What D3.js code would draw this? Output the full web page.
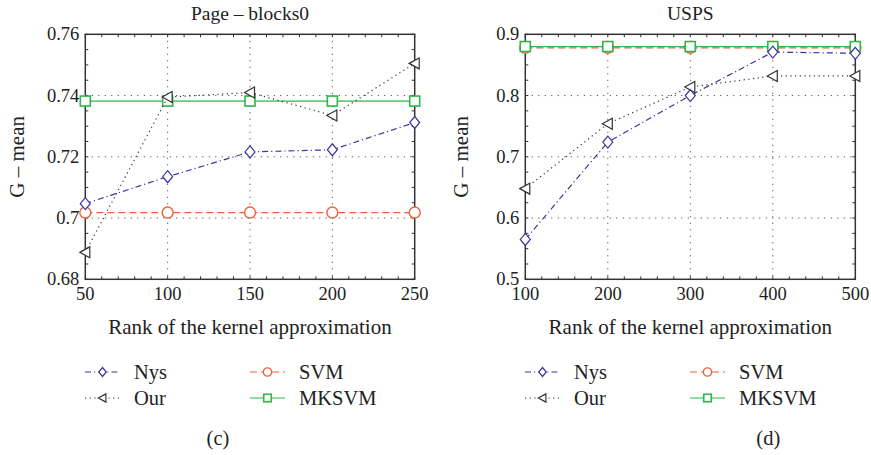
<!DOCTYPE html>
<html><head><meta charset="utf-8">
<script src="https://cdn.jsdelivr.net/npm/d3@7"></script>
<style>body{margin:0;background:#fff}svg{display:block}text{font-family:"Liberation Serif","DejaVu Serif",serif;fill:#222}</style>
</head><body>
<svg id="c" width="871" height="455"></svg>
<script>
// Panel (c): Page - blocks0
const ranksC = [50, 100, 150, 200, 250];
const nysC = [0.7047, 0.7135, 0.7216, 0.7223, 0.7312];
const ourC = [0.6888, 0.7395, 0.7410, 0.7335, 0.7505];
const svmC = [0.7018, 0.7018, 0.7018, 0.7018, 0.7018];
const mksvmC = [0.7382, 0.7382, 0.7382, 0.7382, 0.7382];
const yTicksC = [0.68, 0.70, 0.72, 0.74, 0.76];
const yTickLabelsC = ["0.68", "0.7", "0.72", "0.74", "0.76"];
// Panel (d): USPS
const ranksD = [100, 200, 300, 400, 500];
const nysD = [0.565, 0.724, 0.800, 0.871, 0.869];
const ourD = [0.648, 0.754, 0.814, 0.832, 0.832];
const svmD = [0.878, 0.878, 0.878, 0.878, 0.878];
const mksvmD = [0.880, 0.880, 0.880, 0.880, 0.880];
const yTicksD = [0.5, 0.6, 0.7, 0.8, 0.9];
const yTickLabelsD = ["0.5", "0.6", "0.7", "0.8", "0.9"];
const seriesNames = ["Nys", "Our", "SVM", "MKSVM"];

const styles = {
  Nys:   {color:"#3a35a0", dash:"6,3,1.2,3", marker:"diamond"},
  Our:   {color:"#333", dash:"1.2,3.5", marker:"triangle"},
  SVM:   {color:"#f0603f", dash:"7,4", marker:"circle"},
  MKSVM: {color:"#2fb54a", dash:null, marker:"square"}
};

const svg = d3.select("#c");

function marker(g, type, x, y, color, s){
  s = s || 1;
  if(type==="diamond"){
    g.append("path").attr("d",`M${x},${y-6*s}L${x+5*s},${y}L${x},${y+6*s}L${x-5*s},${y}Z`)
      .attr("fill","#fff").attr("stroke",color).attr("stroke-width",1.2);
  } else if(type==="triangle"){
    g.append("path").attr("d",`M${x-5.5*s},${y}L${x+4.5*s},${y-5.5*s}L${x+4.5*s},${y+5.5*s}Z`)
      .attr("fill","#fff").attr("stroke",color).attr("stroke-width",1.2);
  } else if(type==="circle"){
    g.append("circle").attr("cx",x).attr("cy",y).attr("r",5.5*s)
      .attr("fill","#fff").attr("stroke",color).attr("stroke-width",1.4);
  } else {
    g.append("rect").attr("x",x-5*s).attr("y",y-5*s).attr("width",10*s).attr("height",10*s)
      .attr("fill","#fff").attr("stroke",color).attr("stroke-width",1.6);
  }
}

function panel(opts){
  const {x0,x1,y0,y1,xs,yDom,yTicks,yLabels,xMinor,yMinor,title,data,ylabX,letter,legX} = opts;
  const x = d3.scaleLinear().domain([xs[0], xs[xs.length-1]]).range([x0,x1]);
  const y = d3.scaleLinear().domain(yDom).range([y1,y0]);
  const g = svg.append("g");
  // grid
  xs.slice(1,-1).forEach(v=>g.append("line").attr("x1",x(v)).attr("x2",x(v)).attr("y1",y0).attr("y2",y1)
     .attr("stroke","#333").attr("stroke-width",1).attr("stroke-dasharray","1,5.5"));
  yTicks.slice(1,-1).forEach(v=>g.append("line").attr("x1",x0).attr("x2",x1).attr("y1",y(v)).attr("y2",y(v))
     .attr("stroke","#333").attr("stroke-width",1).attr("stroke-dasharray","1,5.5"));
  // minor ticks inward
  const xm = d3.range(xs[0], xs[xs.length-1]+1e-9, xMinor);
  xm.forEach(v=>{
    g.append("line").attr("x1",x(v)).attr("x2",x(v)).attr("y1",y1).attr("y2",y1-3).attr("stroke","#333");
    g.append("line").attr("x1",x(v)).attr("x2",x(v)).attr("y1",y0).attr("y2",y0+3).attr("stroke","#333");
  });
  const ym = d3.range(yDom[0], yDom[1]+1e-9, yMinor);
  ym.forEach(v=>{
    g.append("line").attr("x1",x0).attr("x2",x0+3).attr("y1",y(v)).attr("y2",y(v)).attr("stroke","#333");
    g.append("line").attr("x1",x1).attr("x2",x1-3).attr("y1",y(v)).attr("y2",y(v)).attr("stroke","#333");
  });
  // frame
  g.append("rect").attr("x",x0).attr("y",y0).attr("width",x1-x0).attr("height",y1-y0)
    .attr("fill","none").attr("stroke","#333").attr("stroke-width",1.5);
  // tick labels
  xs.forEach(v=>g.append("text").attr("x",x(v)).attr("y",y1+21).attr("text-anchor","middle")
    .attr("font-size",18.5).text(v));
  yTicks.forEach((v,i)=>g.append("text").attr("x",x0-6).attr("y",y(v)+6).attr("text-anchor","end")
    .attr("font-size",18.5).text(yLabels[i]));
  // title
  g.append("text").attr("x",(x0+x1)/2).attr("y",20).attr("text-anchor","middle").attr("font-size",19.5).text(title);
  // axis labels
  g.append("text").attr("x",(x0+x1)/2).attr("y",334).attr("text-anchor","middle").attr("font-size",21)
    .text("Rank of the kernel approximation");
  g.append("text").attr("transform",`translate(${ylabX},${(y0+y1)/2}) rotate(-90)`).attr("text-anchor","middle")
    .attr("font-size",21).text("G \u2013 mean");
  // series
  const order = ["SVM","MKSVM","Our","Nys"];
  const line = d3.line().x((d,i)=>x(xs[i])).y(d=>y(d));
  order.forEach(name=>{
    const st = styles[name], vals = data[name];
    g.append("path").attr("d",line(vals)).attr("fill","none").attr("stroke",st.color)
      .attr("stroke-width",1.2).attr("stroke-dasharray",st.dash);
    vals.forEach((v,i)=>marker(g, st.marker, x(xs[i]), y(v), st.color));
  });
  // legend
  seriesNames.forEach((name,i)=>{
    const st = styles[name];
    const lx = legX + (i>=2?165:0);
    const ly = 372 + (i%2)*26;
    g.append("line").attr("x1",lx).attr("x2",lx+35).attr("y1",ly).attr("y2",ly).attr("stroke",st.color)
      .attr("stroke-width",1.2).attr("stroke-dasharray",st.dash);
    marker(g, st.marker, lx+17.5, ly, st.color, 0.75);
    g.append("text").attr("x",lx+49).attr("y",ly+7).attr("font-size",20.5).text(name);
  });
  g.append("text").attr("x",(x0+x1)/2 - (letter==="(c)"?32:-78)).attr("y",445).attr("text-anchor","middle")
    .attr("font-size",20.5).text(letter);
}

panel({x0:85.3,x1:414.7,y0:34.3,y1:279.3,xs:ranksC,yDom:[0.68,0.76],yTicks:yTicksC,yLabels:yTickLabelsC,
  xMinor:10,yMinor:0.005,title:"Page \u2013 blocks0",
  data:{Nys:nysC,Our:ourC,SVM:svmC,MKSVM:mksvmC},ylabX:24,letter:"(c)",legX:85});
panel({x0:525.3,x1:855.3,y0:34.3,y1:279.3,xs:ranksD,yDom:[0.5,0.9],yTicks:yTicksD,yLabels:yTickLabelsD,
  xMinor:20,yMinor:0.025,title:"USPS",
  data:{Nys:nysD,Our:ourD,SVM:svmD,MKSVM:mksvmD},ylabX:468,letter:"(d)",legX:525});
</script>
</body></html>
